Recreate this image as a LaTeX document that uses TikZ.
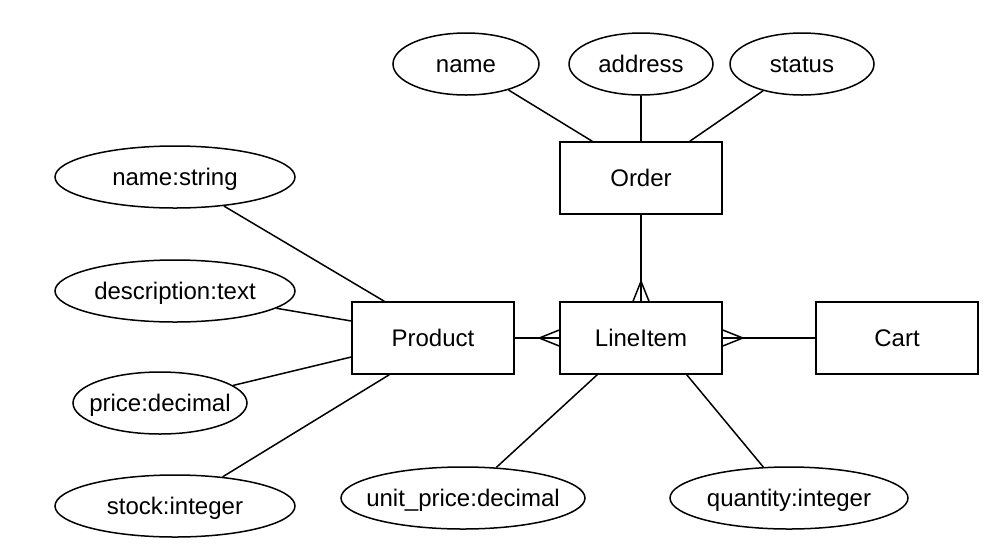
\documentclass[tikz,border=0pt]{standalone}
\usepackage{fontspec}
\setmainfont{Liberation Sans}
\usetikzlibrary{shapes.geometric,calc}
\begin{document}
\begin{tikzpicture}[x=1pt,y=-1pt,
  every node/.style={font=\fontsize{24}{28}\selectfont,text height=17pt,text depth=0pt},
  ent/.style={draw,line width=1.5pt,minimum width=162pt,minimum height=72pt,inner sep=0pt},
  attr/.style={draw,line width=1.5pt,ellipse,minimum height=62pt,inner sep=0pt},
  conn/.style={line width=1.5pt}]
\useasboundingbox (0,0) rectangle (986,550);
\newcommand{\zb}[1]{\makebox[0pt]{#1}}
\node[ent] (order) at (641,178) {Order};
\node[ent] (li) at (641,338) {LineItem};
\node[ent] (prod) at (433,338) {Product};
\node[ent] (cart) at (897,338) {Cart};
\node[attr,minimum width=146pt] (oname) at (466,64) {\zb{name}};
\node[attr,minimum width=144pt] (oaddr) at (641,64) {\zb{address}};
\node[attr,minimum width=144pt] (ostat) at (802,64) {\zb{status}};
\node[attr,minimum width=240pt] (pname) at (175,177) {\zb{name:string}};
\node[attr,minimum width=240pt] (pdesc) at (175,291) {\zb{description:text}};
\node[attr,minimum width=174pt] (pprice) at (160,403) {\zb{price:decimal}};
\node[attr,minimum width=240pt] (pstock) at (175,506) {\zb{stock:integer}};
\node[attr,minimum width=244pt] (lup) at (463,498) {\zb{unit\_price:decimal}};
\node[attr,minimum width=238pt] (lqty) at (789,498) {\zb{quantity:integer}};
\coordinate (t1) at ($(order.north west)+(33,0)$);
\coordinate (t2) at ($(order.north east)+(-33,0)$);
\coordinate (t3) at ($(prod.north west)+(33,0)$);
\coordinate (t4) at ($(prod.west)+(0,-17)$);
\coordinate (t5) at ($(prod.west)+(0,19)$);
\coordinate (t6) at ($(prod.south west)+(38,0)$);
\coordinate (t7) at ($(li.south west)+(38,0)$);
\coordinate (t8) at ($(li.south east)+(-36,0)$);
\draw[conn] (oname) -- (t1);
\draw[conn] (oaddr) -- (order);
\draw[conn] (ostat) -- (t2);
\draw[conn] (pname) -- (t3);
\draw[conn] (pdesc) -- (t4);
\draw[conn] (pprice) -- (t5);
\draw[conn] (pstock) -- (t6);
\draw[conn] (lup) -- (t7);
\draw[conn] (lqty) -- (t8);
% Order -> LineItem (many)
\draw[conn] (order) -- (li);
\coordinate (ft) at ($(li.north)+(0,-20)$);
\draw[conn] ($(li.north)+(-8,0)$) -- (ft) -- ($(li.north)+(8,0)$);
% Product -> LineItem (many)
\draw[conn] (prod) -- (li);
\coordinate (fl) at ($(li.west)+(-20,0)$);
\draw[conn] ($(li.west)+(0,-8)$) -- (fl) -- ($(li.west)+(0,8)$);
% Cart -> LineItem (many)
\draw[conn] (cart) -- (li);
\coordinate (fr) at ($(li.east)+(20,0)$);
\draw[conn] ($(li.east)+(0,-8)$) -- (fr) -- ($(li.east)+(0,8)$);
\end{tikzpicture}
\end{document}
